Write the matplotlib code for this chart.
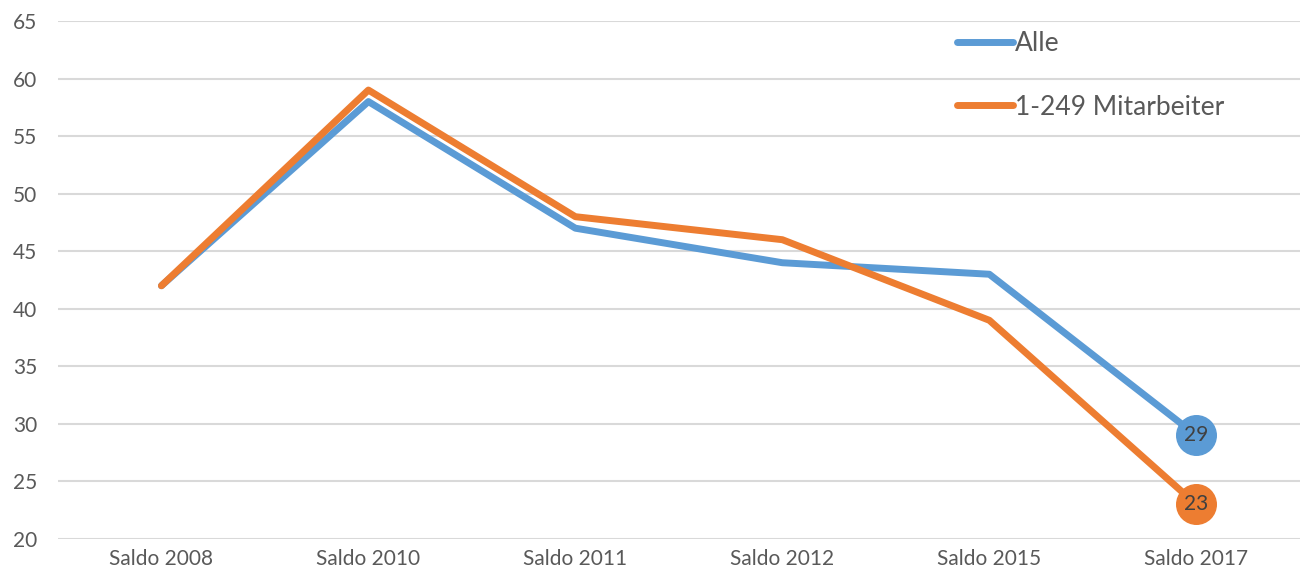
import matplotlib.pyplot as plt

plt.rcParams["font.family"] = ["Lato", "DejaVu Sans"]

categories = ["Saldo 2008", "Saldo 2010", "Saldo 2011", "Saldo 2012", "Saldo 2015", "Saldo 2017"]
alle = [42, 58, 47, 44, 43, 29]
kmu = [42, 59, 48, 46, 39, 23]
series_labels = ["Alle", "1-249 Mitarbeiter"]

blue = "#5B9BD5"
orange = "#ED7D31"
text_col = "#595959"

fig = plt.figure(figsize=(13.05, 5.8), dpi=100)
ax = fig.add_axes([0.0444, 0.0707, 0.9516, 0.8931])

x = list(range(len(categories)))
ax.plot(x, alle, color=blue, lw=5, solid_capstyle="round", solid_joinstyle="round",
        label=series_labels[0], zorder=3)
ax.plot(x, kmu, color=orange, lw=5, solid_capstyle="round", solid_joinstyle="round",
        label=series_labels[1], zorder=3)

# last-point bubbles with value labels
for vals, col in [(alle, blue), (kmu, orange)]:
    ax.plot(x[-1], vals[-1], "o", ms=28.5, color=col, mec=col, zorder=4)
    ax.text(x[-1], vals[-1], str(vals[-1]), ha="center", va="center",
            fontsize=15, color="#404040", zorder=5)

ax.set_xlim(-0.5, len(categories) - 0.5)
ax.set_ylim(20, 65)
ax.set_yticks(range(20, 66, 5))
ax.set_xticks(x)
ax.set_xticklabels(categories)
ax.grid(axis="y", color="#D9D9D9", lw=1.5)
ax.set_axisbelow(True)
for s in ax.spines.values():
    s.set_visible(False)
ax.tick_params(length=0, labelsize=15, colors=text_col, pad=7)
ax.tick_params(axis="y", pad=15)

leg = ax.legend(loc="upper left", bbox_to_anchor=(0.705, 1.027), frameon=False,
                fontsize=19, handlelength=2.1, handletextpad=0.1, labelspacing=1.47)
for t in leg.get_texts():
    t.set_color(text_col)

plt.savefig("out.png", dpi=100)
